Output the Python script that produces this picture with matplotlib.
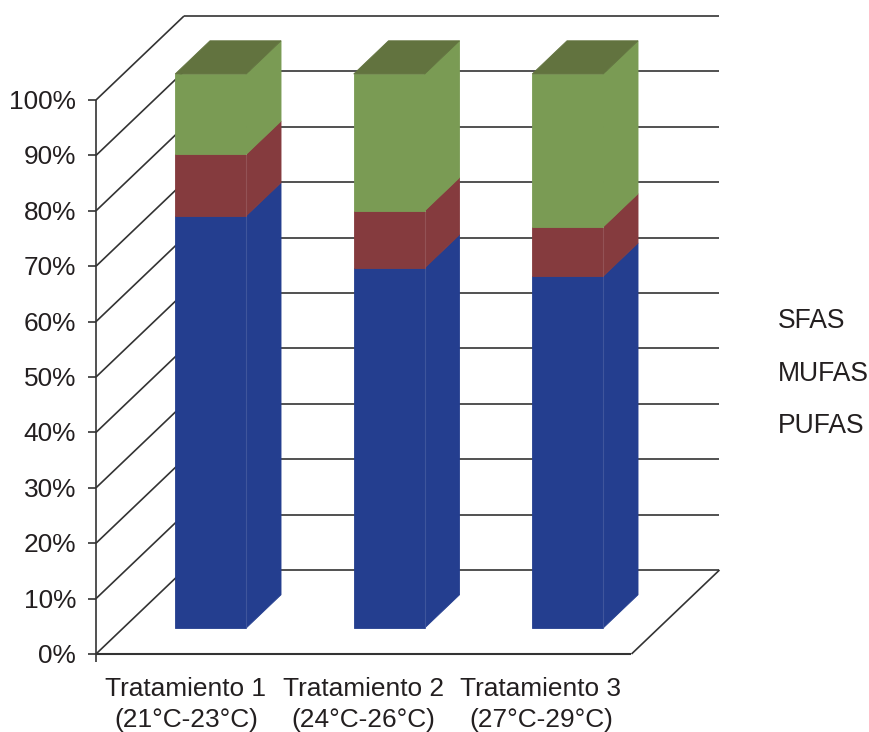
import matplotlib
matplotlib.use('Agg')
import matplotlib.pyplot as plt
from matplotlib.patches import Polygon

plt.rcParams['font.family'] = ['Liberation Sans', 'DejaVu Sans']

# Composicion de acidos grasos por tratamiento (%)
tratamientos = ['Tratamiento 1\n(21°C-23°C)', 'Tratamiento 2\n(24°C-26°C)', 'Tratamiento 3\n(27°C-29°C)']
pufas = [74.4, 65.0, 63.5]
mufas = [11.1, 10.3, 8.9]
sfas = [14.5, 24.7, 27.6]
ticks_y = [0, 10, 20, 30, 40, 50, 60, 70, 80, 90, 100]
leyenda = ['SFAS', 'MUFAS', 'PUFAS']

colores = ['#243e8f', '#853b3e', '#7a9b54']
color_tapa = '#62733f'
color_linea = '#333333'
color_texto = '#231f20'

# Proyeccion oblicua: x en categorias, y en %, d es la profundidad (0 a 1)
X0, Y0 = 96, 654
ANCHO_CAT = 178.5
ALTO_PCT = 5.54
DX, DY = 88, 84


def proy(x, y, d=0.0):
    return (X0 + x * ANCHO_CAT + d * DX, Y0 - y * ALTO_PCT - d * DY)


fig = plt.figure(figsize=(8.7, 7.32), dpi=100)
ax = fig.add_axes([0, 0, 1, 1])
ax.set_xlim(0, 870)
ax.set_ylim(732, 0)
ax.axis('off')


def linea(p, q, lw=1.2):
    ax.plot([p[0], q[0]], [p[1], q[1]], color=color_linea, lw=lw, solid_capstyle='butt', zorder=1)


# Paredes, rejilla y ejes
n = len(tratamientos)
for t in ticks_y:
    linea(proy(0, t), proy(0, t, 1))
    linea(proy(0, t, 1), proy(n, t, 1))
    linea((X0 - 8, proy(0, t)[1]), proy(0, t))
    ax.text(X0 - 20, proy(0, t)[1] + 2, f'{t}%', ha='right', va='center', fontsize=18.9, color=color_texto)
linea(proy(0, 0), proy(0, 100))
linea(proy(0, 0), (X0, Y0 + 8))
linea(proy(0, 0), proy(n, 0), lw=1.5)
linea(proy(n, 0), proy(n, 0, 1))

# Barras apiladas
ANCHO_BARRA = 0.398
D1, D2 = 0.31, 0.705


def cara(puntos, color):
    ax.add_patch(Polygon(puntos, closed=True, facecolor=color, edgecolor=color, lw=0.6, zorder=2))


for i in range(n):
    x1 = i + 0.291
    x2 = x1 + ANCHO_BARRA
    base = 0
    for serie, color in zip([pufas, mufas, sfas], colores):
        tope = base + serie[i]
        cara([proy(x1, base, D1), proy(x2, base, D1), proy(x2, tope, D1), proy(x1, tope, D1)], color)
        cara([proy(x2, base, D1), proy(x2, base, D2), proy(x2, tope, D2), proy(x2, tope, D1)], color)
        base = tope
    cara([proy(x1, base, D1), proy(x2, base, D1), proy(x2, base, D2), proy(x1, base, D2)], color_tapa)

    # Arista clara entre la cara frontal y la lateral (solo PUFAS y MUFAS)
    p, q = proy(x2, 0, D1), proy(x2, pufas[i] + mufas[i], D1)
    ax.plot([p[0], q[0]], [p[1], q[1]], color='white', alpha=0.12, lw=0.8, zorder=3)

    ax.text(X0 + 90 + i * 177.5, 704.5, tratamientos[i], ha='center', va='center', fontsize=18.9,
            color=color_texto, linespacing=1.38)

# Leyenda solo con texto
for nombre, y in zip(leyenda, [321, 374, 426]):
    ax.text(778, y, nombre, ha='left', va='center', fontsize=19.1, color=color_texto)

fig.savefig('out.png', dpi=100, facecolor='white')
